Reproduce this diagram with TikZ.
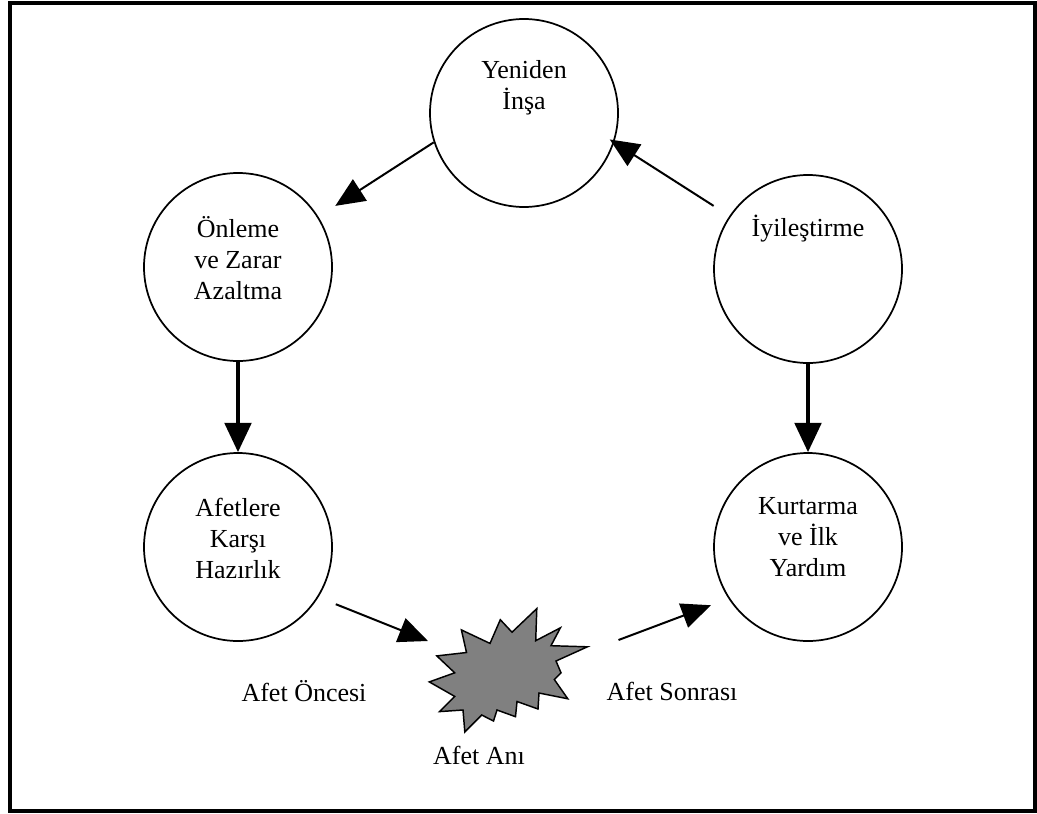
\documentclass[tikz,border=0pt]{standalone}
\usepackage{fontspec}
\setmainfont{Liberation Serif}
\usetikzlibrary{arrows.meta}

\begin{document}
\begin{tikzpicture}[x=0.75pt, y=-0.75pt,
    phase/.style={circle, draw, line width=1.3pt, minimum size=141pt, inner sep=0pt},
    lbl/.style={align=center, inner sep=0pt, font=\fontsize{19.5}{23.25}\selectfont},
    arr/.style={line width=1.5pt, -{Triangle[length=22pt, width=19pt]}},
    bigarr/.style={line width=2.6pt, -{Triangle[length=22pt, width=20pt]}}]
    \useasboundingbox (0,0) rectangle (1037,813);
    % Frame
    \draw [line width=3pt] (9.5,3.5) rectangle (1035,810.5);

    % Phases
    \node [phase] (insa) at (524,113) {};
    \node [phase] (onleme) at (238,267) {};
    \node [phase] (iyi) at (808,269) {};
    \node [phase] (hazir) at (238,547) {};
    \node [phase] (kurt) at (808,547) {};

    % Phase texts
    \node [lbl] (insa-t) at (524,88) {Yeniden\\İnşa};
    \node [lbl] (onleme-t) at (238,258) {Önleme\\ve Zarar\\Azaltma};
    \node [lbl] (iyi-t) at (808,229) {İyileştirme};
    \node [lbl] (hazir-t) at (238,538) {Afetlere\\Karşı\\Hazırlık};
    \node [lbl] (kurt-t) at (808,537) {Kurtarma\\ve İlk\\Yardım};

    % Disaster burst
    \filldraw [fill=black!50, line width=1.1pt, line join=miter]
        (536.8,608.6) -- (535.7,640.7) -- (560.4,627.8) -- (551,645.7) --
        (587.4,646.8) -- (556,661) -- (561,672.8) -- (554.3,679.5) --
        (567.8,698.8) -- (539,693) -- (538,709) -- (517,701.5) --
        (515.5,716.7) -- (497,710) -- (493.5,721) -- (481.7,715) --
        (464.8,731.9) -- (463,710) -- (439.5,711.6) -- (454.7,696.4) --
        (429.3,681.9) -- (454.7,672.8) -- (436.8,655.9) -- (466.5,652.5) --
        (461.4,629.9) -- (490,643.4) -- (500.3,619.7) -- (512,632.2) -- cycle;
    \coordinate (ani-in) at (428,641);
    \coordinate (ani-out) at (618.5,640);

    % Bottom labels
    \node [lbl] (once) at (304,691) {Afet Öncesi};
    \node [lbl] (sonra) at (672,691) {Afet Sonrası};
    \node [lbl] (ani) at (479,755) {Afet Anı};

    % Arrows
    \draw [arr, shorten >=15pt] (insa.198) -- (onleme.32);
    \draw [bigarr] (onleme.south) -- (hazir.north);
    \draw [arr, shorten <=14pt] (hazir.-32) -- (ani-in);
    \draw [arr, shorten >=14pt] (ani-out) -- (kurt.213);
    \draw [bigarr] (iyi.south) -- (kurt.north);
    \draw [arr, shorten <=14pt, shorten >=-4pt] (iyi.146) -- (insa.342);
\end{tikzpicture}
\end{document}
